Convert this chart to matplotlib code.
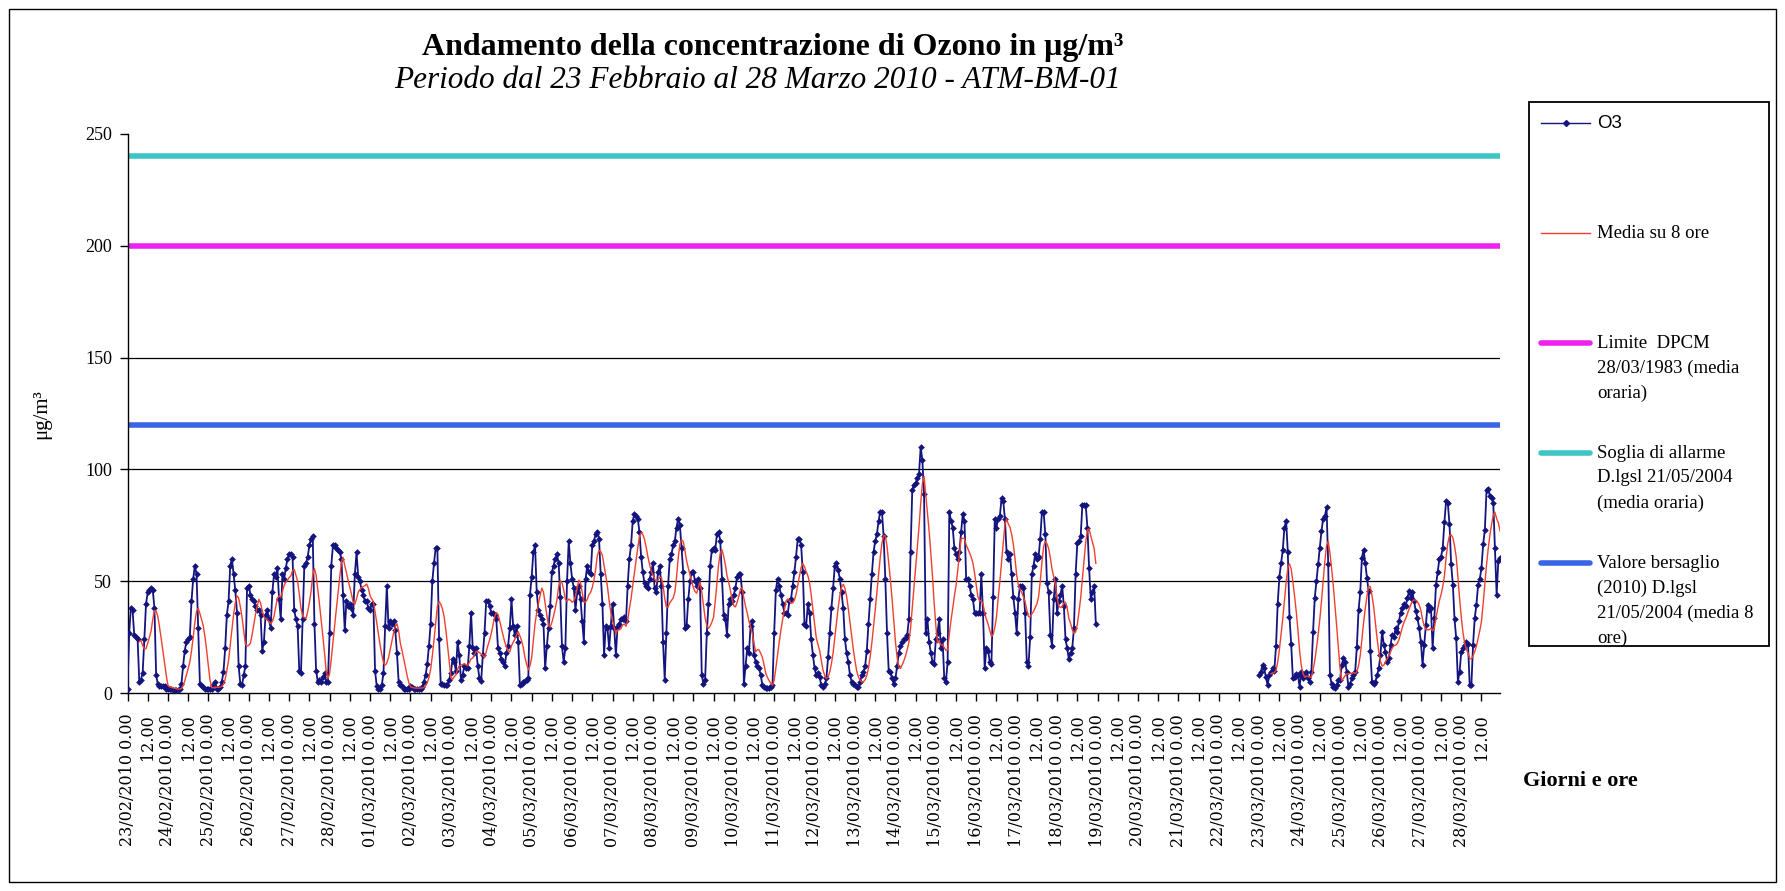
""" Hourly ozone concentration at station ATM-BM-01, 23 February to
28 March 2010, with the 8 hour running mean and the legal thresholds.
"""

import numpy as np
import pandas as pd
import matplotlib
matplotlib.use('Agg')
import matplotlib.pyplot as plt
from matplotlib.lines import Line2D
from matplotlib.patches import Rectangle

# Hourly O3 values (ug/m3) from 23/02/2010 0.00 to 18/03/2010 23.00.
O3_FEB23_MAR18 = [
    2, 27, 38, 37, 26, 25, 24, 5, 6, 9, 24, 40, 45, 46, 47, 46, 38, 8, 4, 3, 3, 3, 3, 2,  # 23/02
    2, 2, 2, 1.5, 1.5, 1.5, 1.5, 2, 4, 12, 19, 23, 24, 25, 41, 51, 57, 53, 29, 4, 3, 2.5, 2, 2,  # 24/02
    2, 2, 2, 3.5, 5, 2, 2, 2.5, 5, 9.5, 20, 35, 41, 57, 60, 53, 46, 36, 12, 4, 3.5, 8, 12, 47,  # 25/02
    48, 44, 42, 41, 39, 37, 37, 35, 19, 23, 35, 37, 33, 29, 45, 53, 52, 56, 42, 33, 53, 51, 56, 60,  # 26/02
    62, 62, 61, 37, 33, 30, 10, 9, 33, 57, 58, 61, 66, 69, 70, 31, 10, 5, 6, 5, 7, 9, 5, 5,  # 27/02
    27, 57, 66, 66, 65, 64, 63, 60, 44, 28, 41, 39, 40, 38, 35, 53, 63, 52, 50, 46, 44, 41, 41, 38,  # 28/02
    37, 40, 40, 10, 3, 2, 2, 3.5, 9, 30, 48, 29, 32, 31, 32, 28, 18, 5, 3.5, 3, 2, 2, 2, 2,  # 01/03
    3, 2.5, 2, 2, 2, 2, 2, 2.5, 5, 8, 13, 21, 31, 50, 58, 65, 65, 24, 4, 4, 3.5, 3.5, 3.5, 6,  # 02/03
    9, 15, 14, 10, 23, 17, 6, 8, 12, 11, 11, 21, 36, 20, 18, 20, 12, 6.5, 5.5, 17, 27, 41, 41, 39,  # 03/03
    36, 36, 35, 33, 20, 18, 15, 14, 12, 18, 21, 29, 42, 30, 26, 30, 23, 3.5, 4, 5, 5.5, 6, 6.5, 44,  # 04/03
    52, 63, 66, 45, 37, 35, 33, 31, 11, 21, 29, 39, 54, 57, 60, 62, 58, 43, 21, 14, 20, 50, 68, 58,  # 05/03
    51, 47, 37, 45, 48, 42, 32, 23, 51, 57, 54, 53, 66, 68, 71, 72, 69, 53, 40, 17, 30, 29, 20, 30,  # 06/03
    40, 29, 17, 30, 31, 33, 33, 34, 32, 48, 60, 66, 77, 80, 79, 78, 72, 61, 54, 49, 48, 47, 51, 54,  # 07/03
    58, 47, 45, 54, 57, 48, 23, 6, 27, 48, 60, 62, 66, 68, 74, 78, 75, 65, 54, 29, 30, 42, 50, 54,  # 08/03
    54, 50, 48, 51, 47, 8, 4, 6, 27, 40, 57, 64, 65, 64, 71, 72, 68, 51, 35, 33, 26, 40, 42, 41,  # 09/03
    44, 47, 52, 53, 53, 45, 4, 12, 20, 18, 30, 32, 17, 14, 12, 11, 8, 3.5, 2.7, 2.3, 2.3, 2.3, 2.7, 3.5,  # 10/03
    27, 46, 51, 48, 44, 40, 36, 36, 35, 41, 42, 48, 54, 61, 69, 69, 66, 54, 31, 30, 40, 36, 24, 17,  # 11/03
    11, 8, 9, 7, 3.5, 2.7, 4, 6.5, 16, 27, 38, 47, 57, 58, 55, 51, 45, 38, 24, 18, 14, 8, 5, 4,  # 12/03
    3.5, 2.7, 2.7, 5, 8, 9.5, 12, 19, 31, 42, 53, 63, 68, 71, 77, 81, 81, 70, 51, 27, 10, 9.5, 6.5, 4,  # 13/03
    6.5, 12, 18, 21, 23, 24, 24.5, 26, 33, 63, 91, 93, 94, 96, 98, 110, 104, 89, 27, 33, 23, 18, 14, 13,  # 14/03
    24, 27, 33, 20, 24, 6.5, 5, 14, 81, 77, 74, 65, 62, 60, 63, 72, 80, 77, 51, 51, 48, 44, 42, 36,  # 15/03
    36, 36, 36, 53, 36, 11, 20, 19, 14, 13, 43, 78, 74, 78, 79, 87, 86, 78, 63, 60, 62, 53, 43, 36,  # 16/03
    27, 42, 48, 48, 47, 36, 14, 12, 25, 53, 57, 62, 60, 61, 69, 81, 81, 71, 49, 45, 26, 21, 42, 51,  # 17/03
    36, 41, 44, 48, 39, 24, 20, 15, 18, 20, 29, 53, 67, 68, 70, 84, 84, 84, 74, 56, 42, 45, 48, 31,  # 18/03
]

# Hourly O3 values (ug/m3) from 23/03/2010 0.00 to 28/03/2010 23.00.
O3_MAR23_MAR28 = [
    8, 9.5, 12.5, 11, 7, 3.5, 8, 9.5, 11, 10, 21, 40, 52, 58, 64, 74, 77, 63, 34, 22, 6.5, 7, 8.5, 8,  # 23/03
    2.7, 9.5, 6.5, 8.5, 9.5, 6.5, 5, 9.5, 27.5, 42.5, 50, 57.5, 65, 72.5, 78, 79, 83, 57.5, 8, 4, 2.7, 2.3, 3.5, 5.7,  # 24/03
    5.7, 12.5, 15.5, 14, 9.5, 2.7, 4.2, 6.5, 8, 9.5, 20.7, 37, 45, 60.5, 64, 58, 51.5, 45.5, 19, 5, 4, 5, 8, 11,  # 25/03
    17, 27.5, 21.5, 18.5, 14, 15.5, 21.5, 26, 25, 29, 27.5, 32, 36, 38, 40, 39, 42.5, 45.5, 42.5, 45, 41, 36.5, 33.5, 29,  # 26/03
    23, 12.5, 21.5, 30.5, 39.5, 37, 38, 20, 33.5, 48.5, 54, 60, 61, 65, 76.5, 86, 85, 75.6, 57.5, 48.5, 33, 24.5, 5, 9.5,  # 27/03
    18.5, 20, 21.5, 23, 22, 3.5, 3.5, 21.5, 33.5, 39.5, 48.5, 51, 56, 66.5, 73, 90.6, 91.4, 88, 87, 85, 65, 44, 59, 60.5,  # 28/03
]

# Hours with no measurement (19/03 0.00 to 22/03 23.00).
GAP_HOURS = 96

# Legal thresholds (ug/m3).
THRESHOLD_NAMES = ['Limite  DPCM\n28/03/1983 (media\noraria)',
                   'Soglia di allarme\nD.lgsl 21/05/2004\n(media oraria)',
                   'Valore bersaglio\n(2010) D.lgsl\n21/05/2004 (media 8\nore)']
THRESHOLD_VALUES = [200, 240, 120]
THRESHOLD_COLORS = ['#EE22EE', '#3EC6C6', '#3A66E6']

NAVY = '#14147E'
RED = '#F0402E'

W, H = 1785, 891


def fx(px):
    """ Pixel column to figure fraction. """
    return px / W


def fy(py):
    """ Pixel row (from top) to figure fraction. """
    return 1.0 - py / H


def build_series():
    """ Assemble the hourly series and its 8 hour running mean. """
    o3 = np.concatenate([np.array(O3_FEB23_MAR18, dtype=float),
                         np.full(GAP_HOURS, np.nan),
                         np.array(O3_MAR23_MAR28, dtype=float)])
    hours = np.arange(len(o3))

    # Running mean over the last 8 hours, as in the legal definition.
    mean8 = pd.Series(o3).rolling(8).mean().to_numpy()

    # Finishing
    return hours, o3, mean8


def draw_legend(fig):
    """ Legend box on the right, one entry per series. """
    fig.add_artist(Rectangle((fx(1529), fy(646)), fx(240), 544 / H,
                             transform=fig.transFigure, fill=True,
                             facecolor='white', edgecolor='black', lw=1.3))

    entries = [('O3', dict(color=NAVY, lw=1.0, marker='D', ms=3,
                           markevery=[1]))]
    entries += [('Media su 8 ore', dict(color=RED, lw=1.0))]
    for name, color in zip(THRESHOLD_NAMES, THRESHOLD_COLORS):
        entries += [(name, dict(color=color, lw=4.0,
                                solid_capstyle='round'))]

    for i, (label, style) in enumerate(entries):
        y = 123 + 110 * i
        fig.add_artist(Line2D([fx(1541), fx(1566), fx(1590)],
                              [fy(y)] * 3, transform=fig.transFigure,
                              **style))
        family = 'Liberation Sans' if label == 'O3' else 'Liberation Serif'
        for j, line in enumerate(label.split('\n')):
            fig.text(fx(1597), fy(y + 25 * j), line, ha='left', va='center',
                     fontsize=13.5, family=family)


def plot_ozone():
    """ Plot the ozone series. """
    hours, o3, mean8 = build_series()

    plt.rcParams['font.family'] = 'Liberation Serif'

    # Initialize clean canvas
    fig = plt.figure(figsize=(W / 100, H / 100), dpi=100)
    ax = fig.add_axes([fx(127.5), fy(693), fx(1500 - 127.5), (693 - 134) / H])

    # Thresholds
    for value, color in zip(THRESHOLD_VALUES, THRESHOLD_COLORS):
        ax.axhline(value, color=color, lw=4.0, zorder=2)

    # Horizontal grid (no line on top)
    for value in [50, 100, 150]:
        ax.axhline(value, color='black', lw=0.9, zorder=1)

    # Series
    ax.plot(hours, o3, color=NAVY, lw=1.3, marker='D', ms=3.4, mew=0,
            zorder=3)
    ax.plot(hours, mean8, color=RED, lw=1.0, zorder=4)

    # X axis: one tick every 12 hours
    ticks = np.arange(0, len(hours), 12)
    stamps = pd.date_range('2010-02-23', periods=len(ticks), freq='12h')
    labels = [s.strftime('%d/%m/%Y 0.00') if s.hour == 0 else '12.00'
              for s in stamps]
    ax.set_xlim(0, len(hours) - 1)
    ax.set_xticks(ticks)
    ax.set_xticklabels(labels, rotation=90, fontsize=11.5,
                       family='DejaVu Serif')

    # Y axis
    ax.set_ylim(0, 250)
    ax.set_yticks([0, 50, 100, 150, 200, 250])
    ax.tick_params(axis='y', labelsize=13, direction='out', length=6,
                   width=1, pad=5)
    ax.tick_params(axis='x', direction='out', length=6, width=1, pad=9)

    for side in ['top', 'right']:
        ax.spines[side].set_visible(False)
    for side in ['left', 'bottom']:
        ax.spines[side].set_linewidth(1.0)

    # Texts
    fig.text(fx(773), fy(48), 'Andamento della concentrazione di Ozono '
             'in \u03bcg/m\u00b3', ha='center', va='center', fontsize=23,
             fontweight='bold')
    fig.text(fx(757), fy(81), 'Periodo dal 23 Febbraio al 28 Marzo 2010 - '
             'ATM-BM-01', ha='center', va='center', fontsize=22.5,
             style='italic')
    fig.text(fx(42), fy(414), '\u03bcg/m\u00b3', rotation=90, ha='center',
             va='center', fontsize=15)
    fig.text(fx(1580), fy(781), 'Giorni e ore', ha='center', va='center',
             fontsize=16, fontweight='bold')

    draw_legend(fig)

    # Outer frame
    fig.add_artist(Rectangle((fx(9), fy(882)), fx(1776 - 9), (882 - 9) / H,
                             transform=fig.transFigure, fill=False,
                             edgecolor='black', lw=1.0))

    plt.savefig('out.png', dpi=100)


if __name__ == '__main__':
    plot_ozone()
